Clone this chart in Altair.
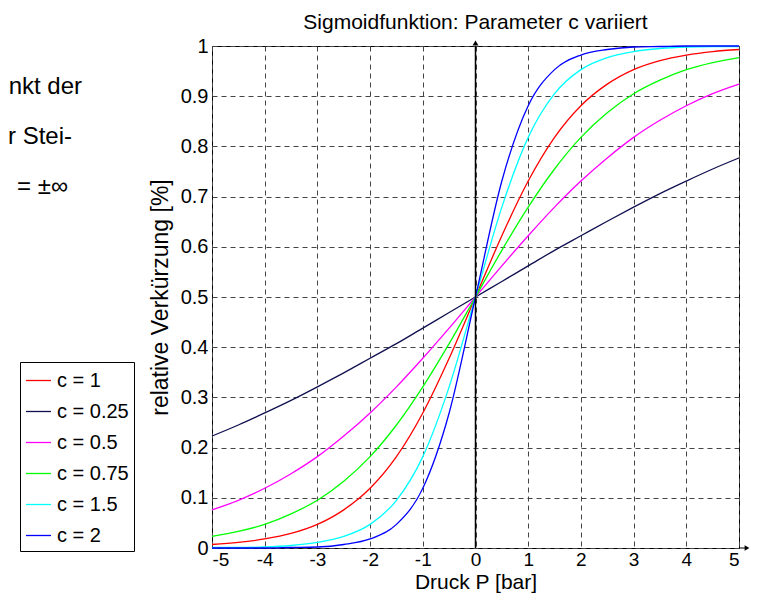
import altair as alt
import pandas as pd

# Druck P [bar]
P = [-5, -4.5, -4, -3.5, -3, -2.5, -2, -1.5, -1, -0.5, 0,
     0.5, 1, 1.5, 2, 2.5, 3, 3.5, 4, 4.5, 5]

# relative Verkürzung, one list per parameter c
c_labels = ["1", "0.25", "0.5", "0.75", "1.5", "2"]
y_c1 = [0.007, 0.011, 0.018, 0.029, 0.047, 0.076, 0.119, 0.182, 0.269, 0.378, 0.5,
        0.622, 0.731, 0.818, 0.881, 0.924, 0.953, 0.971, 0.982, 0.989, 0.993]
y_c025 = [0.223, 0.245, 0.269, 0.294, 0.321, 0.349, 0.378, 0.407, 0.438, 0.469, 0.5,
          0.531, 0.562, 0.593, 0.622, 0.651, 0.679, 0.706, 0.731, 0.755, 0.777]
y_c05 = [0.076, 0.095, 0.119, 0.148, 0.182, 0.223, 0.269, 0.321, 0.378, 0.438, 0.5,
         0.562, 0.622, 0.679, 0.731, 0.777, 0.818, 0.852, 0.881, 0.905, 0.924]
y_c075 = [0.023, 0.033, 0.047, 0.068, 0.095, 0.133, 0.182, 0.245, 0.321, 0.407, 0.5,
          0.593, 0.679, 0.755, 0.818, 0.867, 0.905, 0.932, 0.953, 0.967, 0.977]
y_c15 = [0.001, 0.001, 0.002, 0.005, 0.011, 0.023, 0.047, 0.095, 0.182, 0.321, 0.5,
         0.679, 0.818, 0.905, 0.953, 0.977, 0.989, 0.995, 0.998, 0.999, 0.999]
y_c2 = [0.000, 0.000, 0.000, 0.001, 0.002, 0.007, 0.018, 0.047, 0.119, 0.269, 0.5,
        0.731, 0.881, 0.953, 0.982, 0.993, 0.998, 0.999, 1.0, 1.0, 1.0]
series = [y_c1, y_c025, y_c05, y_c075, y_c15, y_c2]
colors = ["#ff0000", "#101050", "#ff00ff", "#00ff00", "#00ffff", "#0000ff"]

x_ticks = [-5, -4, -3, -2, -1, 0, 1, 2, 3, 4, 5]
y_ticks = [0, 0.1, 0.2, 0.3, 0.4, 0.5, 0.6, 0.7, 0.8, 0.9, 1]

rows = []
for lab, ys in zip(c_labels, series):
    for p, v in zip(P, ys):
        rows.append({"P": p, "y": v, "c": lab})
df = pd.DataFrame(rows)

W, H = 527, 502
FONT = "Liberation Sans"

xscale = alt.Scale(domain=[-5, 5], nice=False, zero=False)
yscale = alt.Scale(domain=[0, 1], nice=False, zero=False)

lines = alt.Chart(df).mark_line(strokeWidth=1.3, interpolate="monotone").encode(
    x=alt.X("P:Q", scale=xscale,
            axis=alt.Axis(values=x_ticks, title="Druck P [bar]", labelPadding=2,
                          labelFontSize=19,
                          labelExpr="datum.value + ''", titleY=40,
                          titleBaseline="alphabetic", titleFontSize=21)),
    y=alt.Y("y:Q", scale=yscale,
            axis=alt.Axis(values=y_ticks, title="relative Verkürzung [%]",
                          labelExpr="datum.value + ''",
                          labelPadding=4, titlePadding=8, titleFontSize=23)),
    color=alt.Color("c:N", scale=alt.Scale(domain=c_labels, range=colors),
                    legend=alt.Legend(orient="none", legendX=-192, legendY=316,
                                      title=None, strokeColor="black", fillColor="white",
                                      padding=5, symbolType="stroke", symbolSize=625,
                                      symbolStrokeWidth=1.3, labelFontSize=20,
                                      labelFont=FONT, labelColor="black", rowPadding=7,
                                      labelOffset=5, cornerRadius=0,
                                      labelExpr="'c = ' + datum.label")),
)

one = pd.DataFrame({"a": [0]})
vline = alt.Chart(one).mark_rule(color="black", strokeWidth=1.5).encode(
    x=alt.datum(0, scale=xscale), y=alt.datum(0, scale=yscale), y2=alt.datum(1))
varrow = alt.Chart(one).mark_point(shape="triangle-up", filled=True, size=35,
                                   color="black", opacity=1, yOffset=-3).encode(
    x=alt.datum(0), y=alt.datum(1))
hline = alt.Chart(one).mark_rule(color="black", strokeWidth=1).encode(
    x=alt.value(W), x2=alt.value(W + 8), y=alt.value(H))
harrow = alt.Chart(one).mark_point(shape="triangle-right", filled=True, size=30,
                                   color="black", opacity=1).encode(
    x=alt.value(W + 8), y=alt.value(H))

t1 = alt.Chart(one).mark_text(align="right", baseline="middle", fontSize=24,
                              font=FONT, color="black").encode(
    x=alt.value(-130), y=alt.value(41), text=alt.value("nkt der"))
t2 = alt.Chart(one).mark_text(align="right", baseline="middle", fontSize=24,
                              font=FONT, color="black").encode(
    x=alt.value(-140), y=alt.value(91), text=alt.value("r Stei-"))
t3 = alt.Chart(one).mark_text(align="right", baseline="middle", fontSize=24,
                              font=FONT, color="black").encode(
    x=alt.value(-144), y=alt.value(141), text=alt.value("= ±∞"))

chart = alt.layer(lines, vline, varrow, hline, harrow, t1, t2, t3).properties(
    width=W, height=H,
    title=alt.TitleParams("Sigmoidfunktion: Parameter c variiert", fontSize=21,
                          font=FONT, fontWeight="normal", color="black", offset=3,
                          anchor="middle"),
    autosize=alt.AutoSizeParams(type="none"),
    padding={"left": 204, "top": 38, "right": 15, "bottom": 46},
).configure_view(stroke="black", strokeWidth=1).configure_axis(
    labelFont=FONT, labelFontSize=20, labelColor="black",
    titleFont=FONT, titleFontWeight="normal", titleColor="black",
    domain=False, ticks=False, grid=True, gridDash=[5, 4], gridColor="#444444",
    gridOpacity=1, gridWidth=1,
)

chart.save("out.html", embed_options={"renderer": "svg", "actions": False})
